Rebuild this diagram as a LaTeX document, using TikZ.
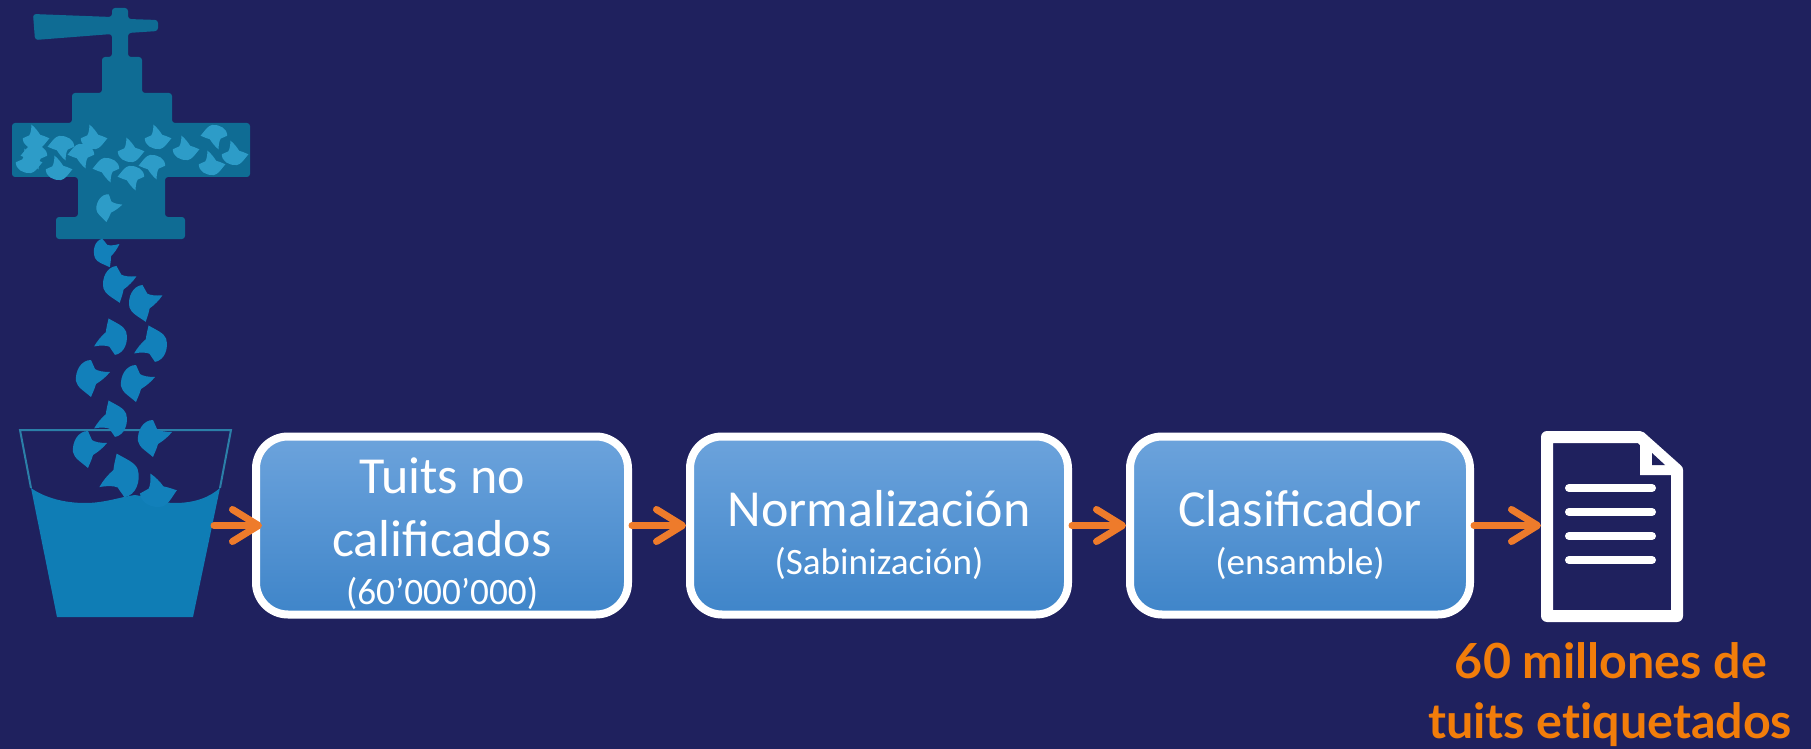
\documentclass[tikz,border=0pt]{standalone}
\usepackage{fontspec}
\setmainfont{Carlito}
\newfontfamily\latofont[Ligatures=NoCommon]{Lato}
\usetikzlibrary{arrows.meta}
\definecolor{bgnavy}{RGB}{31,33,94}
\definecolor{tapcol}{RGB}{15,108,148}
\definecolor{pipebird}{RGB}{45,156,200}
\definecolor{fallbird}{RGB}{18,128,186}
\definecolor{watercol}{RGB}{15,125,181}
\definecolor{rimcol}{RGB}{43,127,168}
\definecolor{flowcol}{RGB}{238,123,43}
\definecolor{labelcol}{RGB}{242,125,10}
\definecolor{boxtop}{RGB}{108,163,220}
\definecolor{boxbot}{RGB}{63,133,201}
\tikzset{
  procbox/.style={draw=white,line width=4pt,rounded corners=16pt,top color=boxtop,bottom color=boxbot,
    minimum height=89pt,inner sep=0pt,align=center,text=white,font=\fontsize{26}{30}\selectfont},
  flow/.style={draw=flowcol,line width=3.5pt,line cap=round,-{Straight Barb[length=13pt,width=16pt,line width=3.5pt,round]}},
  tap/.style={fill=tapcol,rounded corners=1.5pt},
  outlabel/.style={text=labelcol,font=\latofont\bfseries\fontsize{24.2}{30}\selectfont,align=center,inner sep=0pt},
  bird/.pic={\fill[pic actions] (-17,-1) .. controls (-17,9) and (-6,15) .. (4,14) .. controls (10,13) and (14,6) .. (20,-1)
     .. controls (15,-3) and (11,-5) .. (7,-6) .. controls (4,-11) and (0,-16) .. (-5,-20)
     .. controls (-5,-13) and (-6,-8) .. (-8,-5) .. controls (-11,-4) and (-14,-2) .. (-17,-1) -- cycle;}
}
\newcommand{\subtxt}{\fontsize{18.6}{22}\selectfont}
\begin{document}
\begin{tikzpicture}[x=.5pt,y=-.5pt]
\fill[bgnavy] (0,0) rectangle (1811,749);
\useasboundingbox (0,0) rectangle (1811,749);
% tap
\fill[tap] (33,14) -- (112,17) -- (112,8) -- (128,8) -- (128,19) -- (158,20) -- (158,31) -- (128,33) -- (128,57) -- (142,57) -- (142,93)
  -- (172,93) -- (172,123) -- (250,123) -- (250,177) -- (165,177) -- (165,217) -- (185,217) -- (185,239) -- (56,239) -- (56,217) -- (78,217)
  -- (78,177) -- (12,177) -- (12,123) -- (72,123) -- (72,93) -- (102,93) -- (102,57) -- (112,57) -- (112,34) -- (35,40) -- cycle;
% birds in the pipe
\foreach \x/\y in {35/139,93/139,130/152,157/139,185/150,211/165,234/155,58/170,28/163}
  \pic[fill=pipebird,scale=.72] at (\x,\y) {bird};
\foreach \x/\y in {62/146,35/155,82/154,107/168,132/176,153/165,215/135}
  \pic[fill=pipebird,scale=.72,rotate=180] at (\x,\y) {bird};
\pic[fill=pipebird,scale=.75,rotate=-95] at (107,207) {bird};
% bucket
\draw[rimcol,line width=1pt] (31,488) -- (20,430) -- (231,430) -- (220,488);
\fill[watercol] (31,488) .. controls (45,498) and (65,503) .. (85,503) .. controls (105,503) and (120,497) .. (135,495)
  .. controls (150,497) and (160,503) .. (175,503) .. controls (195,503) and (210,497) .. (220,488) -- (193,617) -- (57,617) -- cycle;
% falling birds
\foreach \x/\y/\r/\s in {105/252/-75/.8,117/283/-85/1,143/302/-85/1,90/377/-90/1,135/382/-90/1,152/437/-90/1,87/448/-90/1,
    113/338/100/1,153/345/100/1,113/420/100/1,122/477/100/1.2,157/493/5/1}
  \pic[fill=fallbird,scale=\s,rotate=\r] at (\x,\y) {bird};
% process boxes
\node[procbox,minimum width=186pt] (tuits) at (442,525.5) {\rule{0pt}{26.2pt}Tuits no\\[1.5pt]calificados\\[-6pt]{\subtxt (60’000’000)}};
\node[procbox,minimum width=189pt] (norm) at (879,525.5) {\rule{0pt}{27.5pt}Normalización\\[-6pt]{\subtxt (Sabinización)}};
\node[procbox,minimum width=170pt] (clas) at (1300,525.5) {\rule{0pt}{27.5pt}Clasificador\\[-6pt]{\subtxt (ensamble)}};
% document
\node[minimum width=71pt,minimum height=95.5pt,inner sep=0pt,outer sep=0pt] (doc) at (1612,525.5) {};
\draw[white,line width=6pt,line join=round] (1547,437) -- (1640,437) -- (1677,470) -- (1677,616) -- (1547,616) -- cycle;
\fill[white] (1640,437) -- (1677,470) -- (1677,475) -- (1640,475) -- cycle;
\fill[bgnavy] (1652,453) -- (1652,465) -- (1665,465) -- cycle;
\foreach \y in {488,512,536,560}
  \draw[white,line width=4pt,line cap=round] (1569,\y) -- (1652,\y);
\node[outlabel,anchor=base] (out1) at (1611,678) {60 millones de};
\node[outlabel,anchor=base] (out2) at (1610,738) {tuits etiquetados};
% connectors
\coordinate (bucketout) at (214,525.5);
\draw[flow,shorten >=-5pt] (bucketout) -- (tuits.west);
\draw[flow] (tuits.east) -- (norm.west);
\draw[flow] (norm.east) -- (clas.west);
\draw[flow] (clas.east) -- (doc.west);
\end{tikzpicture}
\end{document}
